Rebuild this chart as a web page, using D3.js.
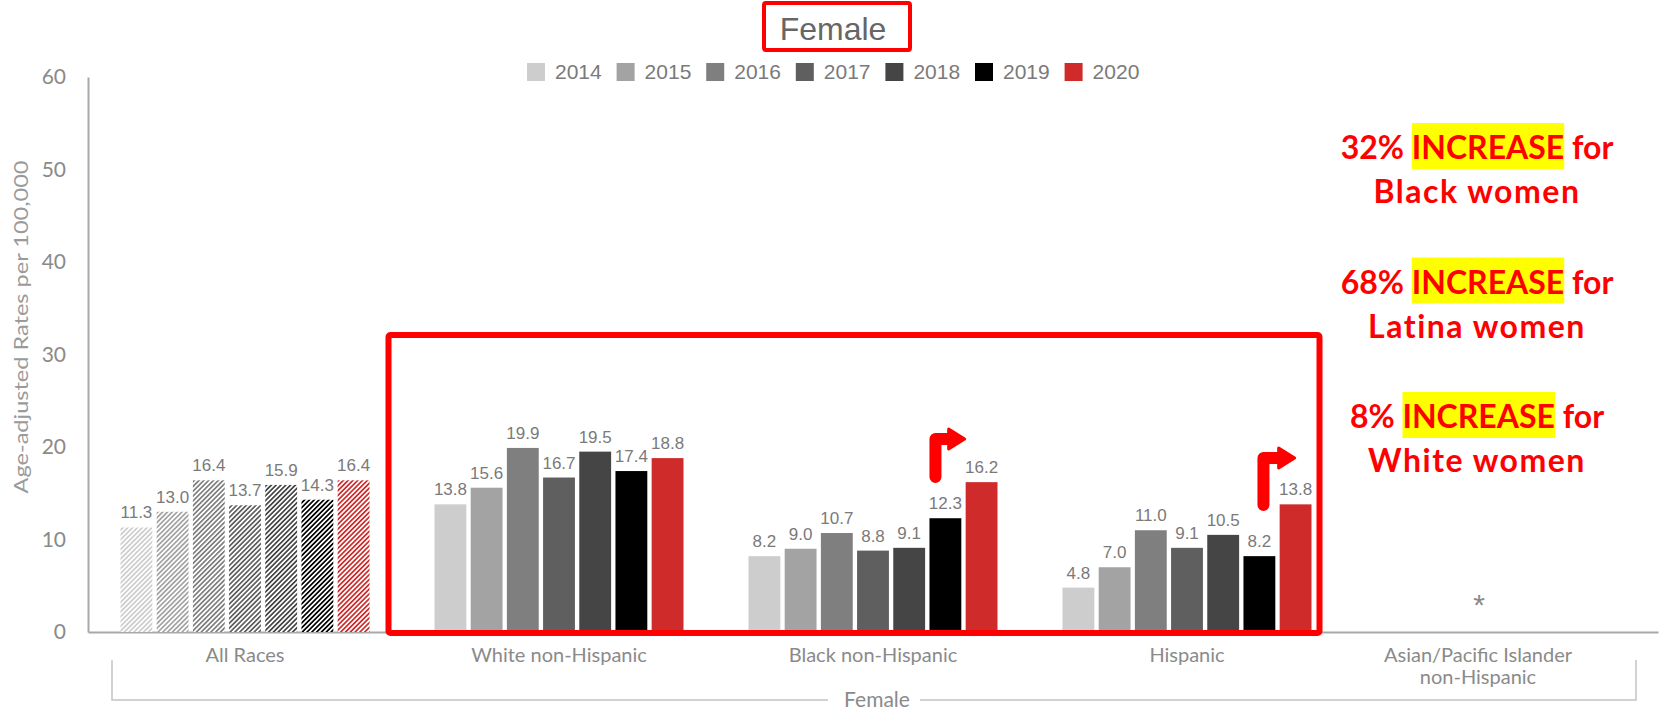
<!DOCTYPE html>
<html>
<head>
<meta charset="utf-8">
<script src="https://cdn.jsdelivr.net/npm/d3@7"></script>
<style>
  html, body { margin: 0; padding: 0; background: #ffffff; }
  svg { display: block; }
</style>
</head>
<body>
<svg id="chart" width="1663" height="713"></svg>
<script>
// ---- data ----
const categories = ["All Races", "White non-Hispanic", "Black non-Hispanic", "Hispanic", "Asian/Pacific Islander non-Hispanic"];
const years = ["2014", "2015", "2016", "2017", "2018", "2019", "2020"];
const allRaces = [11.3, 13.0, 16.4, 13.7, 15.9, 14.3, 16.4];
const whiteNonHispanic = [13.8, 15.6, 19.9, 16.7, 19.5, 17.4, 18.8];
const blackNonHispanic = [8.2, 9.0, 10.7, 8.8, 9.1, 12.3, 16.2];
const hispanic = [4.8, 7.0, 11.0, 9.1, 10.5, 8.2, 13.8];
const asianPacificIslander = [null, null, null, null, null, null, null]; // suppressed (*)
const yTicks = [0, 10, 20, 30, 40, 50, 60];
const yearColors = ["#cdcdcd", "#a3a3a3", "#7f7f7f", "#5f5f5f", "#454545", "#000000", "#cf2b2b"];
const callouts = [
  { pct: "32%", word: "INCREASE", tail: "for", who: "Black women" },
  { pct: "68%", word: "INCREASE", tail: "for", who: "Latina women" },
  { pct: "8%",  word: "INCREASE", tail: "for", who: "White women" }
];

const seriesByCategory = [allRaces, whiteNonHispanic, blackNonHispanic, hispanic, asianPacificIslander];

// ---- layout ----
const svg = d3.select("#chart");
const plotLeft = 88, plotRight = 1658, plotTop = 77, plotBottom = 632;

const x0 = d3.scaleBand().domain(categories).range([plotLeft, plotRight]).padding(0);
const groupWidth = 249;
const groupOffset = (x0.bandwidth() - groupWidth) / 2;
const x1 = d3.scaleBand().domain(years).range([0, groupWidth]).paddingInner(0.12);
const y = d3.scaleLinear().domain([0, 60]).range([plotBottom, plotTop]);
const color = d3.scaleOrdinal().domain(years).range(yearColors);

// diagonal hatching used by the "All Races" group
const defs = svg.append("defs");
years.forEach((yr, i) => {
  const s = 3.4;
  const p = defs.append("pattern")
    .attr("id", "hatch" + yr)
    .attr("patternUnits", "userSpaceOnUse")
    .attr("width", s).attr("height", s)
    .attr("patternTransform", "rotate(45)");
  p.append("rect").attr("width", s).attr("height", s).attr("fill", "#ffffff");
  p.append("rect").attr("width", s * 0.5).attr("height", s).attr("fill", yearColors[i]);
});

// ---- title ----
svg.append("rect")
  .attr("x", 764).attr("y", 3).attr("width", 146).attr("height", 47)
  .attr("rx", 2)
  .attr("fill", "none").attr("stroke", "#ff0000").attr("stroke-width", 4);
svg.append("text")
  .attr("x", 833).attr("y", 40)
  .attr("text-anchor", "middle")
  .attr("font-family", "Liberation Sans, Arial, sans-serif")
  .attr("font-size", 32)
  .attr("fill", "#666666")
  .text("Female");

// ---- legend ----
const legend = svg.append("g").attr("transform", "translate(527,72)");
const li = legend.selectAll("g").data(years).join("g")
  .attr("transform", (d, i) => `translate(${i * 89.6},0)`);
li.append("rect").attr("x", 0).attr("y", -9).attr("width", 18).attr("height", 18)
  .attr("fill", d => color(d));
li.append("text").attr("x", 28).attr("y", 0).attr("dy", "0.35em")
  .attr("font-family", "Liberation Sans, Arial, sans-serif")
  .attr("font-size", 21).attr("fill", "#7a7a7a")
  .text(d => d);

// ---- axes ----
const yAxis = svg.append("g")
  .attr("transform", `translate(${plotLeft},0)`)
  .call(d3.axisLeft(y).tickValues(yTicks).tickSize(0).tickSizeOuter(0).tickPadding(22));
yAxis.select(".domain").attr("stroke", "#a8a8a8").attr("stroke-width", 2);
yAxis.selectAll("text")
  .attr("font-family", "Lato, sans-serif").attr("font-size", 21).attr("fill", "#8a8a8a");

svg.append("text")
  .attr("transform", `translate(21,327) rotate(-90)`)
  .attr("text-anchor", "middle").attr("dy", "0.35em")
  .attr("font-family", "Lato, sans-serif").attr("font-size", 19).attr("fill", "#9a9a9a")
  .attr("textLength", 333).attr("lengthAdjust", "spacingAndGlyphs")
  .text("Age-adjusted Rates per 100,000");

const apiShift = -23; // the suppressed group is labelled a little left of its band centre
const xAxis = svg.append("g")
  .attr("transform", `translate(0,${plotBottom})`)
  .call(d3.axisBottom(x0).tickSize(0).tickSizeOuter(0).tickFormat(""));
xAxis.select(".domain").attr("stroke", "#a8a8a8").attr("stroke-width", 2);
xAxis.selectAll(".tick").each(function (d, i) {
  const dx = i === categories.length - 1 ? apiShift : 0;
  const t = d3.select(this).append("text")
    .attr("x", dx)
    .attr("y", 30)
    .attr("text-anchor", "middle")
    .attr("font-family", "Lato, sans-serif").attr("font-size", 20).attr("fill", "#8a8a8a");
  const parts = d === "Asian/Pacific Islander non-Hispanic" ? ["Asian/Pacific Islander", "non-Hispanic"] : [d];
  parts.forEach((p, k) => {
    t.append("tspan").attr("x", dx).attr("dy", k === 0 ? "0" : "1.1em").text(p);
  });
});

// group bracket under the axis
const bL = x0(categories[0]) + 24, bR = plotRight - 22, bY = 700, bMid = (bL + bR) / 2;
svg.append("path")
  .attr("d", `M${bL},660V${bY}H${bMid - 46}M${bMid + 46},${bY}H${bR}V660`)
  .attr("fill", "none").attr("stroke", "#c4c4c4").attr("stroke-width", 1.5);
svg.append("text")
  .attr("x", bMid + 3).attr("y", bY).attr("dy", "0.35em")
  .attr("text-anchor", "middle")
  .attr("font-family", "Lato, sans-serif").attr("font-size", 21).attr("fill", "#8a8a8a")
  .text("Female");

// ---- bars ----
const groups = svg.append("g").selectAll("g").data(categories).join("g")
  .attr("transform", d => `translate(${x0(d) + groupOffset},0)`);

groups.each(function (cat, ci) {
  const vals = years.map((yr, i) => ({ yr, v: seriesByCategory[ci][i] })).filter(d => d.v != null);
  const g = d3.select(this);
  g.selectAll("rect").data(vals).join("rect")
    .attr("x", d => x1(d.yr))
    .attr("y", d => y(d.v))
    .attr("width", x1.bandwidth())
    .attr("height", d => y(0) - y(d.v))
    .attr("fill", d => ci === 0 ? `url(#hatch${d.yr})` : color(d.yr));
  g.selectAll("text").data(vals).join("text")
    .attr("x", d => x1(d.yr) + x1.bandwidth() / 2)
    .attr("y", d => y(d.v) - 9)
    .attr("text-anchor", "middle")
    .attr("font-family", "Liberation Sans, Arial, sans-serif")
    .attr("font-size", 17).attr("fill", "#7a7a7a")
    .text(d => d3.format(".1f")(d.v));
});

// suppressed-value marker
svg.append("text")
  .attr("x", x0(categories[4]) + x0.bandwidth() / 2 + apiShift + 1)
  .attr("y", y(0) - 17)
  .attr("text-anchor", "middle")
  .attr("font-family", "Liberation Sans, Arial, sans-serif")
  .attr("font-size", 30).attr("fill", "#8a8a8a")
  .text("*");

// ---- highlight box around the race groups ----
const boxL = x0(categories[1]) + groupOffset - 46;
const boxR = x0(categories[3]) + groupOffset + groupWidth + 8;
svg.append("rect")
  .attr("x", boxL).attr("y", y(32.1))
  .attr("width", boxR - boxL).attr("height", y(0) - y(32.1) + 1)
  .attr("rx", 2)
  .attr("fill", "none").attr("stroke", "#ff0000").attr("stroke-width", 6);

// ---- elbow arrows pointing to the 2020 bars ----
function elbowArrow(cx, yTop, yBottom, tipX) {
  const headBase = tipX - 16;
  const a = svg.append("g");
  a.append("path")
    .attr("d", `M${cx},${yBottom}V${yTop}H${headBase + 2}`)
    .attr("fill", "none").attr("stroke", "#ff0000").attr("stroke-width", 12)
    .attr("stroke-linejoin", "round").attr("stroke-linecap", "round");
  a.append("path")
    .attr("d", `M${headBase},${yTop - 10}L${tipX},${yTop}L${headBase},${yTop + 10}Z`)
    .attr("fill", "#ff0000").attr("stroke", "#ff0000").attr("stroke-width", 3)
    .attr("stroke-linejoin", "round");
}
const gx = c => x0(c) + groupOffset;
elbowArrow(gx(categories[2]) + x1("2019") + 6, 439, 477, gx(categories[2]) + x1("2020") - 1);
elbowArrow(gx(categories[3]) + x1("2019") + 20, 458, 505, gx(categories[3]) + x1("2020") + 15);

// ---- call-out text ----
const calloutX = 1477;
callouts.forEach((c, i) => {
  const base = 159 + i * 134.5;
  const g = svg.append("g");
  const hl = g.append("rect").attr("fill", "#ffff00");
  const t1 = g.append("text")
    .attr("x", calloutX).attr("y", base)
    .attr("text-anchor", "middle")
    .attr("font-family", "Lato, sans-serif").attr("font-weight", 700)
    .attr("font-size", 32).attr("fill", "#ff0000");
  t1.append("tspan").text(c.pct + " ");
  t1.append("tspan").text(c.word);
  t1.append("tspan").text(" " + c.tail);
  const start = (c.pct + " ").length;
  const node = t1.node();
  const sx = node.getStartPositionOfChar(start).x;
  const wlen = node.getSubStringLength(start, c.word.length);
  hl.attr("x", sx).attr("y", base - 36).attr("width", wlen).attr("height", 46);
  g.append("text")
    .attr("x", calloutX).attr("y", base + 44)
    .attr("text-anchor", "middle")
    .attr("font-family", "Lato, sans-serif").attr("font-weight", 700)
    .attr("font-size", 32).attr("letter-spacing", 1.5).attr("fill", "#ff0000")
    .text(c.who);
});
</script>
</body>
</html>
